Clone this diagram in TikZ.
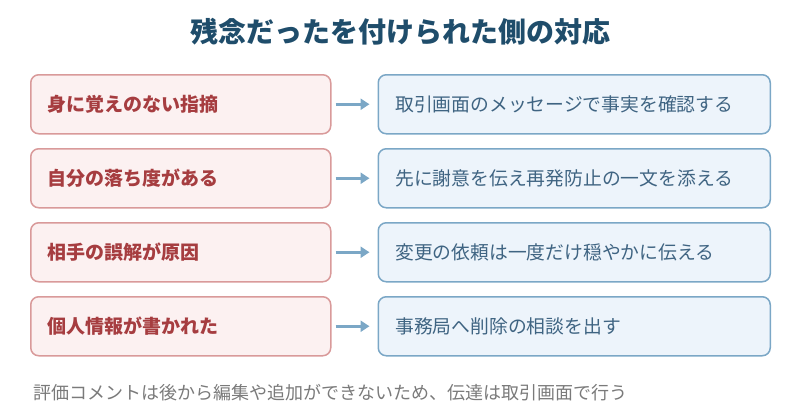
\documentclass[tikz,border=0pt]{standalone}
\usepackage{fontspec}
\setmainfont{Noto Sans CJK JP}
\usetikzlibrary{arrows.meta, positioning}

\definecolor{titleblue}{HTML}{1F4D6B}
\definecolor{causeline}{HTML}{D99A9A}
\definecolor{causefill}{HTML}{FCF1F1}
\definecolor{causetext}{HTML}{A63D40}
\definecolor{actline}{HTML}{7BA7C6}
\definecolor{actfill}{HTML}{EDF4FB}
\definecolor{acttext}{HTML}{3F6482}
\definecolor{notegray}{HTML}{7A7A7A}

\begin{document}
\begin{tikzpicture}[x=1pt, y=-1pt, >={Triangle[length=9pt, width=11pt]},
    causebox/.style={draw=causeline, fill=causefill, line width=1.5pt, rounded corners=8pt,
      minimum width=300pt, minimum height=59pt, inner xsep=17pt, text width=266pt, align=left,
      text=causetext, font=\fontsize{19}{22}\selectfont\bfseries, anchor=north west},
    actbox/.style={draw=actline, fill=actfill, line width=1.5pt, rounded corners=8pt,
      minimum width=392pt, minimum height=59pt, inner xsep=17pt, text width=358pt, align=left,
      text=acttext, font=\fontsize{18.8}{22}\selectfont},
    flow/.style={->, actline, line width=3pt, shorten <=4pt, shorten >=8pt}]

    % --- 1. 描画範囲 ---
    \useasboundingbox (0, 0) rectangle (800, 420);

    % --- 2. タイトル ---
    \node[titleblue, font=\fontsize{28}{32}\selectfont\bfseries] (title) at (400, 32) {残念だったを付けられた側の対応};

    % --- 3. 状況 (左列) ---
    \node[causebox] (c1) at (30, 74) {身に覚えのない指摘};
    \node[causebox] (c2) at (30, 148) {自分の落ち度がある};
    \node[causebox] (c3) at (30, 222) {相手の誤解が原因};
    \node[causebox] (c4) at (30, 296) {個人情報が書かれた};

    % --- 4. 対応 (右列) ---
    \node[actbox, right=46pt of c1] (a1) {取引画面のメッセージで事実を確認する};
    \node[actbox, right=46pt of c2] (a2) {先に謝意を伝え再発防止の一文を添える};
    \node[actbox, right=46pt of c3] (a3) {変更の依頼は一度だけ穏やかに伝える};
    \node[actbox, right=46pt of c4] (a4) {事務局へ削除の相談を出す};

    % --- 5. 矢印 ---
    \draw[flow] (c1) -- (a1);
    \draw[flow] (c2) -- (a2);
    \draw[flow] (c3) -- (a3);
    \draw[flow] (c4) -- (a4);

    % --- 6. 注記 ---
    \node[notegray, anchor=west, font=\fontsize{18}{21}\selectfont] (note) at (30, 393)
    {評価コメントは後から編集や追加ができないため、伝達は取引画面で行う};

  \end{tikzpicture}
\end{document}
